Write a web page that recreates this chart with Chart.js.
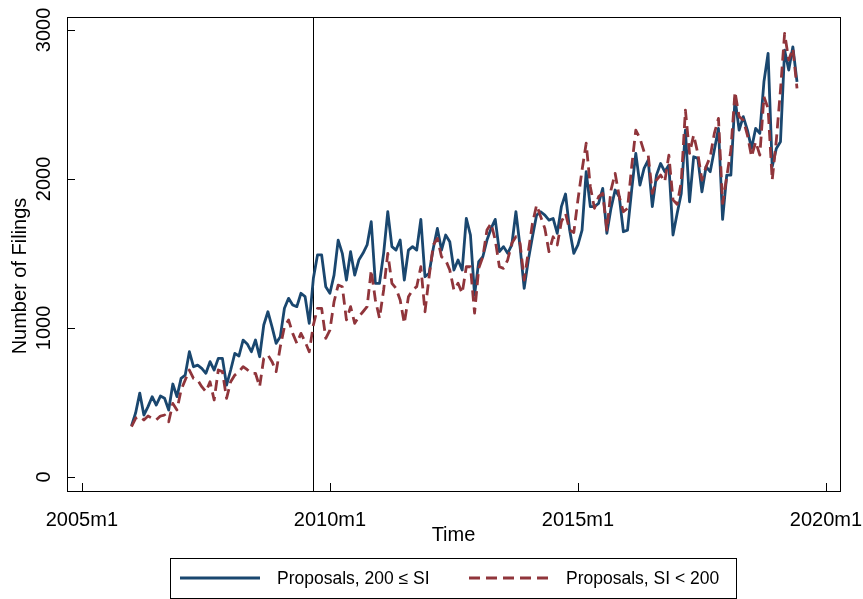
<!DOCTYPE html>
<html>
<head>
<meta charset="utf-8">
<script src="https://cdn.jsdelivr.net/npm/chart.js@4.4.1/dist/chart.umd.min.js"></script>
<style>
html, body { margin: 0; padding: 0; background: #fff; }
</style>
</head>
<body>
<canvas id="myChart" width="863" height="599"></canvas>
<script>
// months run 2006m1 .. 2019m6
const firstYear = 2006;
const periods = [];
for (let i = 0; i < 162; i++) {
    periods.push((firstYear + Math.floor(i / 12)) + 'm' + (i % 12 + 1));
}

const seriesLabels = ['Proposals, 200 \u2264 SI', 'Proposals, SI < 200'];

const proposalsHigh = [
    342, 430, 563, 416, 472, 539, 483, 543, 528, 450, 624, 539,
    662, 684, 841, 740, 751, 729, 696, 774, 718, 796, 796, 617,
    718, 830, 812, 919, 893, 841, 919, 807, 1020, 1109, 1008, 897,
    942, 1132, 1199, 1154, 1143, 1233, 1210, 1031, 1333, 1490, 1490, 1277,
    1233, 1355, 1590, 1501, 1322, 1512, 1355, 1456, 1501, 1557, 1713, 1300,
    1300, 1501, 1780, 1546, 1523, 1590, 1322, 1523, 1546, 1523, 1729, 1344,
    1367, 1534, 1668, 1523, 1624, 1579, 1389, 1456, 1389, 1736, 1624, 1221,
    1445, 1478, 1590, 1668, 1729, 1512, 1546, 1501, 1557, 1780, 1546, 1266,
    1456, 1612, 1758, 1780, 1758, 1724, 1735, 1635, 1814, 1899, 1657, 1501,
    1557, 1657, 2049, 1814, 1814, 1836, 1937, 1635, 1803, 1926, 1881, 1646,
    1657, 1926, 2172, 1959, 2071, 2127, 1814, 2026, 2104, 2049, 2093, 1624,
    1769, 1903, 2328, 1847, 2149, 2138, 1914, 2082, 2049, 2194, 2340, 1729,
    2026, 2026, 2541, 2328, 2418, 2328, 2205, 2340, 2306, 2652, 2843, 2082,
    2205, 2250, 2865, 2731, 2887, 2652
];

const proposalsLow = [
    338, 394, 405, 383, 409, 394, 383, 409, 416, 371, 494, 450,
    584, 651, 718, 662, 651, 606, 572, 639, 517, 718, 707, 528,
    639, 684, 707, 740, 720, 696, 696, 606, 796, 819, 774, 707,
    874, 1008, 1054, 964, 897, 964, 908, 841, 1020, 1132, 1132, 931,
    986, 1176, 1288, 1277, 1054, 1143, 1031, 1075, 1109, 1143, 1389, 1188,
    1065, 1255, 1501, 1300, 1266, 1188, 1031, 1210, 1255, 1277, 1411, 1109,
    1344, 1557, 1601, 1478, 1456, 1389, 1255, 1300, 1233, 1411, 1411, 1100,
    1400, 1478, 1657, 1702, 1590, 1411, 1400, 1456, 1568, 1612, 1568, 1322,
    1512, 1702, 1825, 1747, 1668, 1512, 1612, 1557, 1713, 1769, 1657, 1640,
    1860, 2060, 2240, 1948, 1803, 1881, 1903, 1657, 1926, 2038, 1881, 1780,
    1803, 2082, 2328, 2273, 2183, 2160, 1903, 1993, 2026, 1981, 2160, 1860,
    1830, 1980, 2462, 2172, 2295, 2172, 1993, 2082, 2149, 2306, 2407, 1836,
    2015, 2194, 2585, 2418, 2395, 2295, 2149, 2250, 2160, 2552, 2474, 1993,
    2261, 2597, 2977, 2798, 2876, 2608
];

const xTickLabels = ['2005m1', '2010m1', '2015m1', '2020m1'];
const yTickValues = [0, 1000, 2000, 3000];
const eventPeriod = '2009m9';

// "2007m3" -> months since 2005m1
function monthIndex(p) {
    let parts = p.split('m');
    return (parseInt(parts[0]) - 2005) * 12 + parseInt(parts[1]) - 1;
}

const navy = '#1a476f';
const maroon = '#90353b';
const FONT = '"Liberation Sans", Arial, Helvetica, sans-serif';
const dash = [11, 6];

function toPoints(values) {
    return values.map((v, i) => ({ x: monthIndex(periods[i]), y: v }));
}

const decorations = {
    id: 'decorations',
    beforeDatasetsDraw(chart) {
        const { ctx, chartArea: a, scales: { x } } = chart;
        ctx.save();
        let ex = Math.round(x.getPixelForValue(monthIndex(eventPeriod))) + 0.5;
        ctx.strokeStyle = '#000';
        ctx.lineWidth = 1;
        ctx.beginPath();
        ctx.moveTo(ex, a.top);
        ctx.lineTo(ex, a.bottom);
        ctx.stroke();
        ctx.restore();
    },
    afterDatasetsDraw(chart) {
        const { ctx, chartArea: a, scales: { x, y } } = chart;
        ctx.save();
        ctx.strokeStyle = '#000';
        ctx.lineWidth = 1;
        ctx.strokeRect(Math.round(a.left) + 0.5, Math.round(a.top) + 0.5,
            Math.round(a.right - a.left), Math.round(a.bottom - a.top));

        // ticks point into the plot region
        ctx.beginPath();
        xTickLabels.forEach(t => {
            let px = Math.round(x.getPixelForValue(monthIndex(t))) + 0.5;
            ctx.moveTo(px, a.bottom);
            ctx.lineTo(px, a.bottom - 8);
        });
        yTickValues.forEach(v => {
            let py = Math.round(y.getPixelForValue(v)) + 0.5;
            ctx.moveTo(a.left, py);
            ctx.lineTo(a.left + 8, py);
        });
        ctx.stroke();

        ctx.fillStyle = '#000';
        ctx.font = '20px ' + FONT;
        ctx.textAlign = 'center';
        ctx.textBaseline = 'middle';
        xTickLabels.forEach(t => {
            ctx.fillText(t, x.getPixelForValue(monthIndex(t)), a.bottom + 29);
        });
        yTickValues.forEach(v => {
            ctx.save();
            ctx.translate(44, y.getPixelForValue(v));
            ctx.rotate(-Math.PI / 2);
            ctx.fillText(String(v), 0, 0);
            ctx.restore();
        });

        // axis titles
        ctx.fillText('Time', (a.left + a.right) / 2, 535);
        ctx.save();
        ctx.translate(20, 276);
        ctx.rotate(-Math.PI / 2);
        ctx.fillText('Number of Filings', 0, 0);
        ctx.restore();

        // legend
        ctx.strokeRect(170.5, 558.5, 566, 40);
        ctx.lineWidth = 3;
        ctx.strokeStyle = navy;
        ctx.beginPath();
        ctx.moveTo(180, 578);
        ctx.lineTo(260, 578);
        ctx.stroke();
        ctx.strokeStyle = maroon;
        ctx.setLineDash(dash);
        ctx.beginPath();
        ctx.moveTo(469, 578);
        ctx.lineTo(553, 578);
        ctx.stroke();
        ctx.setLineDash([]);
        ctx.font = '17.5px ' + FONT;
        ctx.textAlign = 'left';
        ctx.fillText(seriesLabels[0], 277, 579);
        ctx.fillText(seriesLabels[1], 566, 579);
        ctx.restore();
    }
};

const ctx = document.getElementById('myChart').getContext('2d');
let myChart = new Chart(ctx, {
    type: 'line',
    data: {
        datasets: [{
            label: seriesLabels[0],
            data: toPoints(proposalsHigh),
            borderColor: navy,
            borderWidth: 2.8,
            pointRadius: 0,
            tension: 0,
            fill: false,
            order: 1
        }, {
            label: seriesLabels[1],
            data: toPoints(proposalsLow),
            borderColor: maroon,
            borderWidth: 2.8,
            borderDash: dash,
            pointRadius: 0,
            tension: 0,
            fill: false,
            order: 0
        }]
    },
    options: {
        responsive: false,
        animation: false,
        devicePixelRatio: 1,
        layout: { padding: { top: 17, right: 23, bottom: 60, left: 0 } },
        plugins: {
            legend: { display: false },
            tooltip: { enabled: false }
        },
        elements: { line: { borderJoinStyle: 'round', borderCapStyle: 'butt' } },
        scales: {
            x: {
                type: 'linear',
                min: -3.6,
                max: 183.4,
                grid: { display: false, drawTicks: false },
                border: { display: false },
                ticks: { display: false },
                afterFit(scale) { scale.height = 48; }
            },
            y: {
                type: 'linear',
                min: -94,
                max: 3087,
                grid: { display: false, drawTicks: false },
                border: { display: false },
                ticks: { display: false },
                afterFit(scale) { scale.width = 67; }
            }
        }
    },
    plugins: [decorations]
});
</script>
</body>
</html>
